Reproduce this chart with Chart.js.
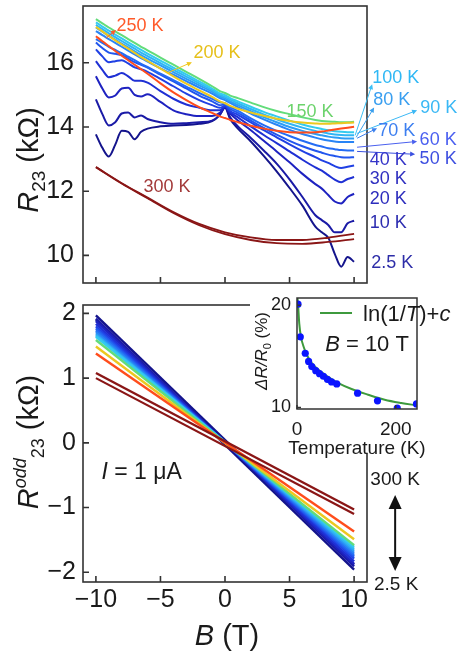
<!DOCTYPE html>
<html>
<head>
<meta charset="utf-8">
<script src="https://cdn.jsdelivr.net/npm/chart.js@4"></script>
<style>
  html, body { margin: 0; padding: 0; background: #fff; }
  #wrap { position: relative; width: 458px; height: 655px; overflow: hidden; }
  canvas { position: absolute; }
  #topChart { left: 0; top: 0; }
  #bottomChart { left: 0; top: 290px; }
  #insetChart { left: 250px; top: 292px; }
</style>
</head>
<body>
<div id="wrap">
  <canvas id="topChart" width="458" height="290"></canvas>
  <canvas id="bottomChart" width="458" height="365"></canvas>
  <canvas id="insetChart" width="208" height="168"></canvas>
</div>
<script>
"use strict"

// ---- data ----
const temps = ["2.5 K", "10 K", "20 K", "30 K", "40 K", "50 K", "60 K", "70 K", "80 K", "90 K", "100 K", "150 K", "200 K", "250 K", "300 K"];
const lineColors = ["#14148c", "#1a1aa6", "#1e22c0", "#1f30d4", "#2040e4", "#2256ee", "#246cf4", "#2884f6", "#2c9ef6", "#30b6f4", "#34cbef", "#62dc7a", "#ecc820", "#ff4d1c", "#8a1616"];

// top panel: R23 (kOhm) against B (T)
const fieldGrid = [-10, -9.5, -9, -8.5, -8, -7.5, -7, -6.5, -6, -5, -4, -3, -2, -1, -0.4, 0, 0.4, 1, 2, 3, 4, 5, 6, 7, 7.5, 8, 8.5, 9, 9.5, 10];
const r23_2p5K = [13.77, 13.35, 13.08, 13.45, 13.88, 13.85, 13.62, 13.85, 13.95, 14.02, 14.05, 14.06, 14.1, 14.18, 14.38, 14.6, 14.25, 13.95, 13.55, 13.1, 12.62, 12.1, 11.55, 10.9, 10.72, 10.55, 10.05, 9.65, 9.95, 9.8];
const r23_10K = [14.86, 14.4, 14.05, 14.15, 14.42, 14.45, 14.3, 14.36, 14.25, 14.15, 14.1, 14.12, 14.15, 14.2, 14.38, 14.62, 14.3, 14.02, 13.66, 13.27, 12.86, 12.37, 11.82, 11.25, 11.1, 10.95, 10.72, 10.72, 11.0, 11.08];
const r23_20K = [15.58, 15.2, 14.92, 14.98, 15.2, 15.22, 15.0, 14.95, 15.02, 14.78, 14.52, 14.4, 14.34, 14.34, 14.44, 14.62, 14.42, 14.2, 13.9, 13.57, 13.24, 12.9, 12.54, 12.22, 12.08, 11.88, 11.68, 11.62, 11.82, 11.92];
const r23_30K = [16.05, 15.78, 15.55, 15.6, 15.68, 15.58, 15.44, 15.44, 15.38, 15.12, 14.88, 14.7, 14.6, 14.52, 14.52, 14.64, 14.46, 14.3, 14.02, 13.75, 13.5, 13.24, 12.98, 12.74, 12.64, 12.5, 12.36, 12.28, 12.38, 12.44];
const r23_40K = [16.42, 16.2, 16.02, 16.05, 16.08, 15.98, 15.86, 15.8, 15.72, 15.5, 15.27, 15.04, 14.84, 14.68, 14.6, 14.66, 14.5, 14.38, 14.14, 13.9, 13.68, 13.46, 13.25, 13.06, 12.96, 12.88, 12.78, 12.72, 12.76, 12.8];
const r23_50K = [16.63, 16.46, 16.32, 16.28, 16.24, 16.13, 16.02, 15.94, 15.85, 15.63, 15.42, 15.2, 14.98, 14.8, 14.68, 14.7, 14.56, 14.44, 14.2, 13.97, 13.76, 13.57, 13.4, 13.26, 13.2, 13.14, 13.1, 13.06, 13.05, 13.06];
const r23_60K = [16.74, 16.62, 16.5, 16.4, 16.3, 16.19, 16.08, 15.97, 15.87, 15.66, 15.46, 15.26, 15.06, 14.88, 14.77, 14.74, 14.62, 14.5, 14.27, 14.06, 13.88, 13.72, 13.57, 13.44, 13.39, 13.34, 13.31, 13.28, 13.27, 13.27];
const r23_70K = [16.99, 16.86, 16.74, 16.62, 16.5, 16.38, 16.26, 16.15, 16.04, 15.83, 15.63, 15.43, 15.23, 15.04, 14.9, 14.84, 14.75, 14.62, 14.42, 14.24, 14.07, 13.91, 13.78, 13.67, 13.62, 13.58, 13.55, 13.53, 13.53, 13.53];
const r23_80K = [17.1, 16.97, 16.84, 16.72, 16.6, 16.48, 16.36, 16.24, 16.13, 15.92, 15.71, 15.5, 15.3, 15.1, 14.95, 14.89, 14.8, 14.68, 14.49, 14.31, 14.15, 14.0, 13.88, 13.78, 13.74, 13.7, 13.67, 13.65, 13.64, 13.64];
const r23_90K = [17.18, 17.05, 16.92, 16.8, 16.68, 16.56, 16.44, 16.32, 16.21, 15.99, 15.78, 15.57, 15.36, 15.15, 15.0, 14.94, 14.85, 14.74, 14.56, 14.39, 14.24, 14.1, 13.98, 13.88, 13.84, 13.8, 13.77, 13.75, 13.74, 13.74];
const r23_100K = [17.26, 17.13, 17.0, 16.88, 16.76, 16.64, 16.52, 16.4, 16.29, 16.07, 15.85, 15.64, 15.42, 15.2, 15.05, 14.99, 14.9, 14.8, 14.63, 14.47, 14.33, 14.2, 14.08, 13.98, 13.94, 13.9, 13.87, 13.85, 13.84, 13.84];
const r23_150K = [17.36, 17.23, 17.1, 16.98, 16.86, 16.74, 16.62, 16.5, 16.39, 16.16, 15.94, 15.72, 15.5, 15.27, 15.12, 15.06, 14.98, 14.9, 14.76, 14.62, 14.5, 14.4, 14.3, 14.22, 14.19, 14.17, 14.16, 14.15, 14.15, 14.16];
const r23_200K = [17.12, 16.98, 16.84, 16.7, 16.57, 16.44, 16.31, 16.18, 16.06, 15.82, 15.58, 15.35, 15.14, 14.94, 14.8, 14.74, 14.66, 14.57, 14.45, 14.35, 14.26, 14.19, 14.14, 14.11, 14.1, 14.1, 14.11, 14.12, 14.13, 14.14];
const r23_250K = [16.83, 16.67, 16.52, 16.37, 16.22, 16.08, 15.94, 15.8, 15.66, 15.36, 15.08, 14.84, 14.62, 14.44, 14.33, 14.28, 14.22, 14.15, 14.04, 13.95, 13.88, 13.84, 13.83, 13.84, 13.86, 13.89, 13.92, 13.95, 13.98, 14.01];
const fieldCoarse = [-10, -8, -6, -4, -2, 0, 2, 4, 6, 8, 10];
const r23_300K_up = [12.75, 12.25, 11.8, 11.35, 10.98, 10.72, 10.56, 10.48, 10.48, 10.55, 10.67];
const r23_300K_down = [12.75, 12.24, 11.78, 11.32, 10.94, 10.66, 10.48, 10.38, 10.36, 10.42, 10.51];

// bottom panel: odd part, straight sweeps from -10 T to 10 T
const fieldEnds = [-10, 10];
const oddAtNeg10 = [1.97, 1.92, 1.88, 1.84, 1.80, 1.77, 1.74, 1.71, 1.68, 1.66, 1.64, 1.59, 1.49, 1.38, 1.08];
const oddAtPos10 = [-1.88, -1.91, -1.87, -1.83, -1.79, -1.76, -1.73, -1.70, -1.67, -1.64, -1.61, -1.58, -1.49, -1.37, -1.03];
const oddReturn2p5K = [1.90, -1.96];
const oddReturn300K = [1.00, -1.10];

// inset: dR/R0 (%) at 10 T against temperature
const insetTemp = [2, 6.6, 16.7, 23.5, 30, 38, 45.6, 53.5, 61.6, 70, 80.5, 122.7, 163, 203, 242];
const insetRatio = [20.1, 16.9, 15.3, 14.5, 14.0, 13.6, 13.3, 13.05, 12.75, 12.5, 12.3, 11.4, 10.65, 9.95, 10.35];
const fitTemp = [0.3, 2, 4.6, 8, 13.4, 20, 30, 43.5, 63.6, 83.7, 110.5, 144, 177.6, 211, 243];
const fitRatio = [21.0, 20.16, 18.2, 16.9, 15.94, 15.13, 14.33, 13.68, 12.97, 12.38, 11.8, 11.25, 10.76, 10.44, 10.2];

// tick labels
const fieldTicks = [-10, -5, 0, 5, 10];
const r23Ticks = [10, 12, 14, 16];
const oddTicks = [-2, -1, 0, 1, 2];
const insetXTicks = [0, 200];
const insetYTicks = [10, 20];

// ---- drawing helpers ----
const FONT = '"Liberation Sans", Arial, Helvetica, sans-serif';
Chart.defaults.font.family = FONT;
Chart.defaults.color = "#1a1a1a";
Chart.defaults.animation = false;

const minus = v => String(v).replace("-", "\u2212");

function drawRich(ctx, parts, cx, cy, rotate, base) {
    ctx.save();
    ctx.translate(cx, cy);
    if (rotate) ctx.rotate(-Math.PI / 2);
    ctx.textAlign = "left";
    ctx.textBaseline = "alphabetic";
    let total = 0;
    parts.forEach(p => { ctx.font = p.font; p.w = ctx.measureText(p.text).width; total += p.w; });
    let x = -total / 2;
    parts.forEach(p => {
        ctx.font = p.font;
        ctx.fillStyle = p.color || "#1a1a1a";
        ctx.fillText(p.text, x, base + (p.dy || 0));
        x += p.w;
    });
    ctx.restore();
}

function drawArrow(ctx, x0, y0, x1, y1, color, lw, head, halfW) {
    const ang = Math.atan2(y1 - y0, x1 - x0);
    ctx.save();
    ctx.strokeStyle = color;
    ctx.fillStyle = color;
    ctx.lineWidth = lw;
    ctx.beginPath();
    ctx.moveTo(x0, y0);
    ctx.lineTo(x1 - Math.cos(ang) * head * 0.8, y1 - Math.sin(ang) * head * 0.8);
    ctx.stroke();
    ctx.beginPath();
    ctx.moveTo(x1, y1);
    ctx.lineTo(x1 - Math.cos(ang) * head - Math.sin(ang) * halfW, y1 - Math.sin(ang) * head + Math.cos(ang) * halfW);
    ctx.lineTo(x1 - Math.cos(ang) * head + Math.sin(ang) * halfW, y1 - Math.sin(ang) * head - Math.cos(ang) * halfW);
    ctx.closePath();
    ctx.fill();
    ctx.restore();
}

// box around the plot area with ticks pointing inwards
function frameTicks(lw, len) {
    return {
        id: "frameTicks",
        afterDatasetsDraw(chart) {
            const { ctx, chartArea: a, scales: { x, y } } = chart;
            ctx.save();
            ctx.strokeStyle = "#333";
            ctx.lineWidth = lw;
            ctx.strokeRect(a.left, a.top, a.right - a.left, a.bottom - a.top);
            ctx.beginPath();
            x.ticks.forEach(t => {
                const px = x.getPixelForValue(t.value);
                ctx.moveTo(px, a.bottom);
                ctx.lineTo(px, a.bottom - len);
            });
            y.ticks.forEach(t => {
                const py = y.getPixelForValue(t.value);
                ctx.moveTo(a.left, py);
                ctx.lineTo(a.left + len, py);
            });
            ctx.stroke();
            ctx.restore();
        }
    };
}

function fixedAxis(extra) {
    return Object.assign({
        type: "linear",
        grid: { display: false, drawTicks: false },
        border: { display: false }
    }, extra);
}

function setTicks(values) {
    return s => { s.ticks = values.map(v => ({ value: v })); };
}

function fitWidth(w) {
    return s => { s.width = w; s.paddingTop = 0; s.paddingBottom = 0; s.paddingLeft = 0; s.paddingRight = 0; };
}

function fitHeight(h) {
    return s => { s.height = h; s.paddingTop = 0; s.paddingBottom = 0; s.paddingLeft = 0; s.paddingRight = 0; };
}

const baseOptions = {
    responsive: false,
    maintainAspectRatio: false,
    devicePixelRatio: 1,
    events: [],
    plugins: { legend: { display: false }, tooltip: { enabled: false } }
};

// ---- top panel ----
const r23Series = [r23_2p5K, r23_10K, r23_20K, r23_30K, r23_40K, r23_50K, r23_60K, r23_70K, r23_80K, r23_90K, r23_100K, r23_150K, r23_200K, r23_250K];

const topDatasets = r23Series.map((arr, i) => ({
    label: temps[i],
    data: fieldGrid.map((b, j) => ({ x: b, y: arr[j] })),
    borderColor: lineColors[i],
    borderWidth: 2,
    pointRadius: 0,
    cubicInterpolationMode: "monotone",
    order: 40 - i
}));
[r23_300K_up, r23_300K_down].forEach(arr => {
    topDatasets.push({
        label: "300 K",
        data: fieldCoarse.map((b, j) => ({ x: b, y: arr[j] })),
        borderColor: lineColors[14],
        borderWidth: 1.8,
        pointRadius: 0,
        cubicInterpolationMode: "monotone",
        order: 1
    });
});

// label spots and arrows, in data units (B, R)
const topNotes = [
    { text: "250 K", at: [-6.59, 17.15], color: "#ff5a2a" },
    { text: "200 K", at: [-0.62, 16.30], color: "#e6c01a" },
    { text: "150 K", at: [6.59, 14.46], color: "#6cd36c" },
    { text: "300 K", at: [-4.5, 12.12], color: "#a33a3a" },
    { text: "100 K", at: [13.22, 15.52], color: "#2fb8f5" },
    { text: "80 K", at: [12.91, 14.83], color: "#3a9ff0" },
    { text: "90 K", at: [16.55, 14.58], color: "#3ab8f5" },
    { text: "70 K", at: [13.3, 13.87], color: "#3d7ff0" },
    { text: "60 K", at: [16.51, 13.58], color: "#4a5ff0" },
    { text: "50 K", at: [16.51, 12.99], color: "#3e4fe0" },
    { text: "40 K", at: [12.64, 12.96], color: "#3535c8" },
    { text: "30 K", at: [12.64, 12.37], color: "#3030c0" },
    { text: "20 K", at: [12.64, 11.77], color: "#2d2dbd" },
    { text: "10 K", at: [12.64, 11.02], color: "#2d2db0" },
    { text: "2.5 K", at: [12.95, 9.77], color: "#2d2da8" }
];
const topArrows = [
    { from: [-9.22, 16.77], to: [-8.45, 17.02], color: "#ff5a2a" },
    { from: [-4.5, 15.68], to: [-2.56, 16.02], color: "#f0c820" },
    { from: [10.08, 13.74], to: [11.4, 15.33], color: "#3cc0f5" },
    { from: [10.16, 13.68], to: [11.55, 14.61], color: "#3aa0ee" },
    { from: [10.23, 13.8], to: [14.88, 14.52], color: "#3cb8f5" },
    { from: [10.23, 13.65], to: [11.78, 13.96], color: "#3c80ee" },
    { from: [10.23, 13.37], to: [14.88, 13.55], color: "#4a60ee" },
    { from: [10.23, 13.24], to: [14.73, 13.15], color: "#3a50e0" }
];

const topAnnotations = {
    id: "topAnnotations",
    afterDraw(chart) {
        const { ctx, scales: { x, y } } = chart;
        topArrows.forEach(a => drawArrow(ctx,
            x.getPixelForValue(a.from[0]), y.getPixelForValue(a.from[1]),
            x.getPixelForValue(a.to[0]), y.getPixelForValue(a.to[1]),
            a.color, 1, 5, 2.5));
        ctx.save();
        ctx.font = "18px " + FONT;
        ctx.textAlign = "center";
        ctx.textBaseline = "middle";
        topNotes.forEach(n => {
            ctx.fillStyle = n.color;
            ctx.fillText(n.text, x.getPixelForValue(n.at[0]), y.getPixelForValue(n.at[1]));
        });
        ctx.restore();
        drawRich(ctx, [
            { text: "R", font: "italic 29px " + FONT },
            { text: "23", font: "19px " + FONT, dy: 7 },
            { text: " (k\u03A9)", font: "29px " + FONT }
        ], 28, 160, true, 10);
    }
};

new Chart(document.getElementById("topChart"), {
    type: "line",
    data: { datasets: topDatasets },
    options: Object.assign({}, baseOptions, {
        layout: { padding: { top: 6, right: 91, left: 0, bottom: 0 } },
        scales: {
            x: fixedAxis({ min: -11, max: 11, afterBuildTicks: setTicks(fieldTicks), ticks: { display: false }, afterFit: fitHeight(7) }),
            y: fixedAxis({ min: 9.14, max: 17.77, afterBuildTicks: setTicks(r23Ticks), ticks: { padding: 9, font: { size: 25 }, callback: minus }, afterFit: fitWidth(83) })
        }
    }),
    plugins: [frameTicks(1.6, 6), topAnnotations]
});

// ---- bottom panel ----
const bottomDatasets = temps.map((t, i) => ({
    label: t,
    data: fieldEnds.map((b, j) => ({ x: b, y: j === 0 ? oddAtNeg10[i] : oddAtPos10[i] })),
    borderColor: lineColors[i],
    borderWidth: 2.4,
    pointRadius: 0,
    order: 40 - i
}));
bottomDatasets.push({
    label: "2.5 K return",
    data: fieldEnds.map((b, j) => ({ x: b, y: oddReturn2p5K[j] })),
    borderColor: lineColors[0], borderWidth: 2.4, pointRadius: 0, order: 39
});
bottomDatasets.push({
    label: "300 K return",
    data: fieldEnds.map((b, j) => ({ x: b, y: oddReturn300K[j] })),
    borderColor: lineColors[14], borderWidth: 2.2, pointRadius: 0, order: 1
});

const bottomAnnotations = {
    id: "bottomAnnotations",
    afterDraw(chart) {
        const { ctx, scales: { x, y } } = chart;
        drawRich(ctx, [
            { text: "I", font: "italic 23px " + FONT },
            { text: " = 1 \u03BCA", font: "23px " + FONT }
        ], x.getPixelForValue(-6.46), y.getPixelForValue(-0.434), false, 8);
        ctx.save();
        ctx.font = "19px " + FONT;
        ctx.fillStyle = "#1a1a1a";
        ctx.textAlign = "center";
        ctx.textBaseline = "middle";
        ctx.fillText("300 K", x.getPixelForValue(13.18), y.getPixelForValue(-0.575));
        ctx.fillText("2.5 K", x.getPixelForValue(13.26), y.getPixelForValue(-2.2));
        ctx.restore();
        const ax = x.getPixelForValue(13.18);
        const ya = y.getPixelForValue(-0.806), yb = y.getPixelForValue(-1.98);
        drawArrow(ctx, ax, (ya + yb) / 2, ax, ya, "#111", 2, 14, 6.5);
        drawArrow(ctx, ax, (ya + yb) / 2, ax, yb, "#111", 2, 14, 6.5);
        drawRich(ctx, [
            { text: "R", font: "italic 29px " + FONT },
            { text: "odd", font: "italic 18px " + FONT, dy: -12 },
            { text: "23", font: "18px " + FONT, dy: 6 },
            { text: " (k\u03A9)", font: "29px " + FONT }
        ], 28, 442 - 290, true, 10);
        drawRich(ctx, [
            { text: "B", font: "italic 29px " + FONT },
            { text: " (T)", font: "29px " + FONT }
        ], 227, 635 - 290, false, 10);
    }
};

new Chart(document.getElementById("bottomChart"), {
    type: "line",
    data: { datasets: bottomDatasets },
    options: Object.assign({}, baseOptions, {
        layout: { padding: { top: 15, right: 91, left: 0, bottom: 0 } },
        scales: {
            x: fixedAxis({ min: -11, max: 11, afterBuildTicks: setTicks(fieldTicks), ticks: { padding: 3, font: { size: 25 }, callback: minus, maxRotation: 0 }, afterFit: fitHeight(73) }),
            y: fixedAxis({ min: -2.15, max: 2.13, afterBuildTicks: setTicks(oddTicks), ticks: { padding: 7, font: { size: 25 }, callback: minus }, afterFit: fitWidth(83) })
        }
    }),
    plugins: [frameTicks(1.6, 6), bottomAnnotations]
});

// ---- inset ----
// white patch behind the inset, stopping above the main curves
const insetBackdrop = {
    id: "insetBackdrop",
    beforeDraw(chart) {
        const ctx = chart.ctx;
        ctx.save();
        ctx.fillStyle = "#fff";
        ctx.fillRect(0, 0, chart.width, 161);
        ctx.restore();
    }
};

const insetAnnotations = {
    id: "insetAnnotations",
    afterDraw(chart) {
        const { ctx, scales: { x, y } } = chart;
        const ly = y.getPixelForValue(19.23);
        ctx.save();
        ctx.strokeStyle = "#3d9a3d";
        ctx.lineWidth = 2;
        ctx.beginPath();
        ctx.moveTo(x.getPixelForValue(46.6), ly);
        ctx.lineTo(x.getPixelForValue(111.4), ly);
        ctx.stroke();
        ctx.restore();
        const parts = [
            { text: "ln(1/", font: "22px " + FONT },
            { text: "T", font: "italic 22px " + FONT },
            { text: ")+", font: "22px " + FONT },
            { text: "c", font: "italic 22px " + FONT }
        ];
        ctx.save();
        let w = 0;
        parts.forEach(p => { ctx.font = p.font; w += ctx.measureText(p.text).width; });
        ctx.restore();
        drawRich(ctx, parts, x.getPixelForValue(133.7) + w / 2, ly, false, 8);
        drawRich(ctx, [
            { text: "B", font: "italic 22px " + FONT },
            { text: " = 10 T", font: "22px " + FONT }
        ], x.getPixelForValue(141.8), y.getPixelForValue(16.3), false, 8);
        drawRich(ctx, [
            { text: "\u0394R/R", font: "italic 17px " + FONT },
            { text: "0", font: "11px " + FONT, dy: 4 },
            { text: " (%)", font: "17px " + FONT }
        ], 11, 59, true, 6);
        ctx.save();
        ctx.font = "19px " + FONT;
        ctx.fillStyle = "#1a1a1a";
        ctx.textAlign = "center";
        ctx.textBaseline = "middle";
        ctx.fillText("Temperature (K)", 107, 157);
        ctx.restore();
    }
};

new Chart(document.getElementById("insetChart"), {
    type: "line",
    data: {
        datasets: [
            {
                label: "data",
                data: insetTemp.map((t, i) => ({ x: t, y: insetRatio[i] })),
                showLine: false,
                pointRadius: 3.6,
                pointBackgroundColor: "#0a14ff",
                pointBorderColor: "#0a14ff",
                pointBorderWidth: 0,
                clip: 0,
                order: 0
            },
            {
                label: "ln(1/T)+c",
                data: fitTemp.map((t, i) => ({ x: t, y: fitRatio[i] })),
                borderColor: "#3d9a3d",
                borderWidth: 2,
                pointRadius: 0,
                cubicInterpolationMode: "monotone",
                clip: 0,
                order: 1
            }
        ]
    },
    options: Object.assign({}, baseOptions, {
        layout: { padding: { top: 6, right: 41, left: 0, bottom: 0 } },
        scales: {
            x: fixedAxis({ min: 0, max: 243, afterBuildTicks: setTicks(insetXTicks), ticks: { padding: 9, font: { size: 19 }, maxRotation: 0 }, afterFit: fitHeight(51) }),
            y: fixedAxis({ min: 9.85, max: 20.7, afterBuildTicks: setTicks(insetYTicks), ticks: { padding: 6, font: { size: 18 } }, afterFit: fitWidth(47) })
        }
    }),
    plugins: [insetBackdrop, frameTicks(1.5, 4), insetAnnotations]
});
</script>
</body>
</html>
